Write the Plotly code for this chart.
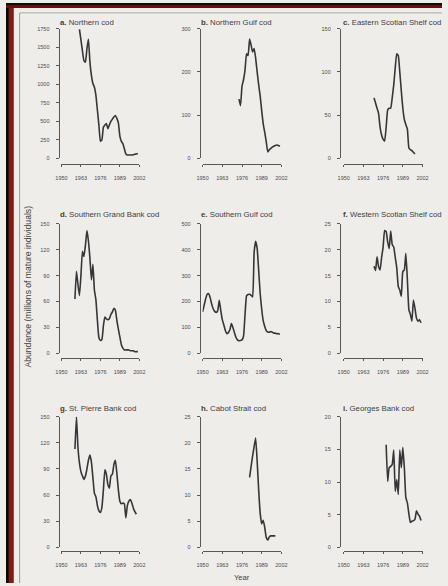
import plotly.graph_objects as go

W, H = 448, 586

# ---- data: mature cod abundance (millions of individuals) by stock ----
years_northern = list(range(1962, 2002))
northern_cod = [1740, 1600, 1450, 1320, 1300, 1480, 1610, 1300, 1120, 1010,
                960, 850, 650, 450, 230, 250, 420, 450, 470, 400,
                450, 500, 530, 560, 580, 540, 480, 300, 230, 200,
                130, 60, 45, 45, 45, 45, 50, 55, 60, 65]

years_ngulf = list(range(1974, 2002))
northern_gulf_cod = [137, 122, 167, 182, 205, 242, 238, 276, 262, 246,
                     254, 232, 200, 170, 144, 110, 80, 60, 38, 15,
                     20, 23, 26, 28, 30, 31, 30, 28]

years_escotian = list(range(1970, 1998))
eastern_scotian_cod = [70, 64, 58, 52, 36, 27, 22, 20, 36, 56,
                       58, 58, 70, 85, 105, 121, 119, 100, 78, 58,
                       45, 39, 34, 12, 10, 9, 7, 5]

years_sgrand = list(range(1959, 2002))
southern_grand_bank_cod = [63, 95, 80, 67, 90, 118, 112, 125, 142, 130,
                           110, 85, 103, 73, 62, 38, 18, 15, 16, 32,
                           42, 40, 39, 40, 45, 48, 52, 50, 38, 28,
                           19, 10, 6, 4, 4, 4, 4, 3, 3, 3,
                           2, 2, 2]

years_sgulf = list(range(1950, 2002))
southern_gulf_cod = [160, 185, 210, 228, 230, 215, 190, 172, 162, 158,
                     165, 205, 165, 130, 110, 88, 76, 80, 91, 115,
                     100, 80, 62, 52, 49, 50, 52, 66, 150, 222,
                     227, 228, 224, 218, 390, 432, 405, 320, 230, 170,
                     125, 104, 88, 82, 82, 84, 82, 78, 78, 76,
                     76, 74]

years_wscotian = list(range(1970, 2002))
western_scotian_cod = [16.8, 16.0, 18.6, 16.7, 16.1, 18.5, 20.5, 23.7, 23.5, 21.5,
                       20.2, 23.6, 21.0, 20.5, 18.5, 16.5, 12.9, 12.2, 11.0, 15.8,
                       16.1, 19.3, 14.2, 8.4, 7.5, 6.2, 10.3, 8.7, 6.8, 6.2,
                       6.5, 5.9]

years_stpierre = list(range(1959, 2001))
st_pierre_bank_cod = [113, 150, 115, 97, 87, 82, 78, 82, 90, 100,
                      106, 98, 80, 62, 58, 48, 42, 40, 46, 66,
                      89, 84, 72, 68, 82, 84, 95, 100, 85, 66,
                      53, 50, 51, 50, 34, 48, 53, 55, 51, 45,
                      41, 38]

years_cabot = list(range(1981, 1999))
cabot_strait_cod = [13.4, 15.5, 17.5, 19.3, 20.9, 16.5, 11.0, 6.5, 4.5, 5.2,
                    3.8, 1.9, 1.4, 2.0, 2.2, 2.2, 2.2, 2.2]

years_georges = list(range(1978, 2002))
georges_bank_cod = [15.7, 10.1, 12.2, 12.4, 12.7, 14.9, 8.6, 10.4, 8.1, 14.9,
                    12.2, 15.3, 12.2, 7.6, 6.8, 5.1, 3.8, 4.0, 4.1, 4.3,
                    5.6, 5.1, 4.8, 4.1]

panel_letters = ["a.", "b.", "c.", "d.", "e.", "f.", "g.", "h.", "i."]
panel_names = ["Northern cod", "Northern Gulf cod", "Eastern Scotian Shelf cod",
               "Southern Grand Bank cod", "Southern Gulf cod", "Western Scotian Shelf cod",
               "St. Pierre Bank cod", "Cabot Strait cod", "Georges Bank cod"]
panel_years = [years_northern, years_ngulf, years_escotian,
               years_sgrand, years_sgulf, years_wscotian,
               years_stpierre, years_cabot, years_georges]
panel_values = [northern_cod, northern_gulf_cod, eastern_scotian_cod,
                southern_grand_bank_cod, southern_gulf_cod, western_scotian_cod,
                st_pierre_bank_cod, cabot_strait_cod, georges_bank_cod]
panel_ymax = [1750, 300, 150, 150, 500, 25, 150, 25, 20]
panel_dtick = [250, 100, 50, 30, 100, 5, 30, 5, 5]

year_ticks = [1950, 1963, 1976, 1989, 2002]

# ---- layout geometry (pixels) ----
col_yaxis_x = [54, 199, 343]          # vertical axis line
col_plot_x = [(57, 137), (202, 283), (347, 428)]
row_plot_y = [(26, 157), (223, 354), (418, 550)]   # top value .. zero
row_xaxis_y = [163, 359, 554]
row_title_y = [20, 214, 410]
col_title_x = [53, 198, 344]

INK = "#363636"
AXIS = "#585858"
TXT = "#4a4a4a"
TITLE = "#404040"
PAGE = "#efedea"
FONT = "Liberation Sans, Arial, sans-serif"


def fx(px):
    return px / W


def fy(px):
    return 1 - px / H


fig = go.Figure()
layout = dict(
    width=W, height=H,
    margin=dict(l=0, r=0, t=0, b=0),
    paper_bgcolor=PAGE,
    plot_bgcolor="rgba(0,0,0,0)",
    showlegend=False,
    font=dict(family=FONT, color=TXT, size=6),
)

annotations = []
for i in range(9):
    r, c = divmod(i, 3)
    n = "" if i == 0 else str(i + 1)
    xa, ya = "x" + n, "y" + n
    fig.add_trace(go.Scatter(
        x=panel_years[i], y=panel_values[i], mode="lines",
        line=dict(color=INK, width=1.6, shape="spline", smoothing=0.4),
        xaxis=xa, yaxis=ya, hoverinfo="skip", cliponaxis=False,
    ))
    x0, x1 = col_plot_x[c]
    ytop, ybot = row_plot_y[r]
    layout["xaxis" + n] = dict(
        domain=[fx(x0), fx(x1)], range=[1950, 2002],
        anchor="free", position=fy(row_xaxis_y[r]),
        showline=True, linecolor=AXIS, linewidth=1,
        showgrid=False, zeroline=False,
        tickmode="array", tickvals=year_ticks,
        ticks="outside", ticklen=2, tickwidth=1, tickcolor=AXIS,
        ticklabelstandoff=6,
        tickfont=dict(size=5.5, color=TXT, family=FONT),
    )
    layout["yaxis" + n] = dict(
        domain=[fy(ybot), fy(ytop)], range=[0, panel_ymax[i]],
        anchor="free", position=fx(col_yaxis_x[c]),
        showline=True, linecolor=AXIS, linewidth=1,
        showgrid=False, zeroline=False,
        tick0=0, dtick=panel_dtick[i],
        ticks="outside", ticklen=3, tickwidth=1, tickcolor=AXIS,
        ticklabelstandoff=5,
        tickfont=dict(size=5.5, color=TXT, family=FONT),
    )
    annotations.append(dict(
        text="<b>" + panel_letters[i] + "</b> " + panel_names[i],
        xref="paper", yref="paper", x=fx(col_title_x[c]), y=fy(row_title_y[r]),
        xanchor="left", yanchor="middle", showarrow=False,
        font=dict(size=7.8, color=TITLE, family=FONT),
    ))

annotations.append(dict(
    text="Abundance (millions of mature individuals)",
    xref="paper", yref="paper", x=fx(23), y=fy(286), textangle=-90,
    xanchor="center", yanchor="middle", showarrow=False,
    font=dict(size=8.6, color=TITLE, family=FONT),
))
annotations.append(dict(
    text="Year", xref="paper", yref="paper", x=fx(243), y=fy(580),
    xanchor="center", yanchor="middle", showarrow=False,
    font=dict(size=7.6, color=TITLE, family=FONT),
))
layout["annotations"] = annotations

# page edge: dark binding and inner rule lines
layout["shapes"] = [
    dict(type="rect", xref="paper", yref="paper", x0=0, x1=fx(3), y0=0, y1=1,
         fillcolor="#0c0303", line=dict(width=0), layer="below"),
    dict(type="rect", xref="paper", yref="paper", x0=fx(3), x1=fx(8), y0=0, y1=1,
         fillcolor="#8a1616", line=dict(width=0), layer="below"),
    dict(type="rect", xref="paper", yref="paper", x0=0, x1=1, y0=fy(5), y1=1,
         fillcolor="#6e0d0d", line=dict(width=0), layer="below"),
    dict(type="rect", xref="paper", yref="paper", x0=0, x1=1, y0=fy(2), y1=1,
         fillcolor="#1e0505", line=dict(width=0), layer="below"),
    dict(type="line", xref="paper", yref="paper", x0=fx(14), x1=fx(14), y0=0, y1=fy(10),
         line=dict(color="#9c9c9c", width=1), layer="below"),
    dict(type="line", xref="paper", yref="paper", x0=fx(14), x1=1, y0=fy(10), y1=fy(10),
         line=dict(color="#a8a8a8", width=1), layer="below"),
]

fig.update_layout(**layout)
fig.write_html("out.html")
